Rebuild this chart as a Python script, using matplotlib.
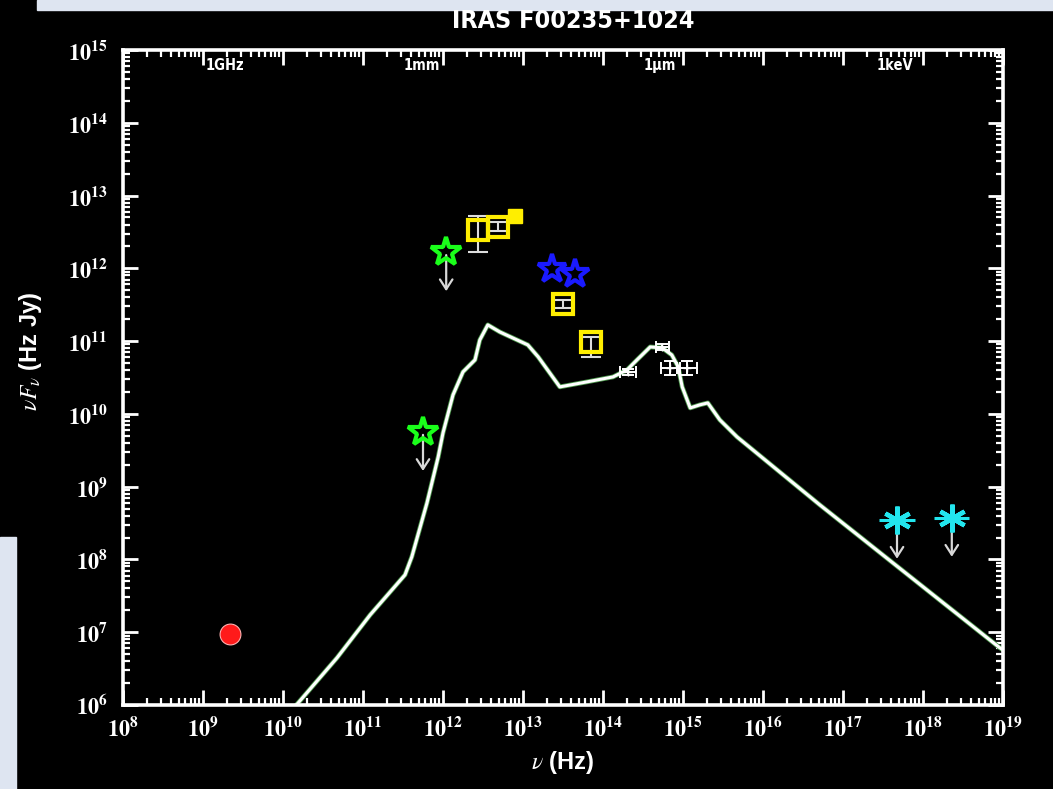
import numpy as np
import matplotlib
matplotlib.use("Agg")
import matplotlib.pyplot as plt
from matplotlib.patches import Rectangle
from matplotlib.ticker import LogLocator, NullFormatter

# model SED curve (log nu [Hz], log nuFnu [Hz Jy])
model_lognu = [10.01, 10.675, 11.09, 11.525, 11.61, 11.80, 11.94, 12.00, 12.125,
               12.25, 12.40, 12.46, 12.56, 12.71, 13.06, 13.19, 13.46, 13.80,
               14.125, 14.30, 14.425, 14.59, 14.74, 14.86, 14.94, 14.99, 15.09,
               15.21, 15.31, 15.46, 15.675, 16.71, 18.96, 19.0]
model_logf = [5.80, 6.648, 7.239, 7.788, 8.036, 8.778, 9.409, 9.739, 10.261,
              10.577, 10.742, 11.016, 11.223, 11.126, 10.948, 10.783, 10.371, 10.440,
              10.508, 10.604, 10.742, 10.920, 10.907, 10.810, 10.646, 10.371, 10.082,
              10.124, 10.151, 9.918, 9.684, 8.750, 6.786, 6.758]

# radio detection
radio_lognu = [9.34]
radio_logf = [6.98]

# green star upper limits
green_lognu = [11.75, 12.04]
green_logf = [9.75, 12.22]

# yellow squares with errors
yel_lognu = [12.44, 12.69, 13.50, 13.85]
yel_logf = [12.53, 12.57, 11.51, 10.99]
yel_err_lo = [0.30, 0.06, 0.06, 0.21]
yel_err_hi = [0.19, 0.06, 0.06, 0.06]
yel_filled_lognu = [12.90]
yel_filled_logf = [12.72]

# blue stars
blue_lognu = [13.36, 13.65]
blue_logf = [11.99, 11.92]

# white photometry points near the model
wht_lognu = [14.31, 14.74, 14.84, 15.05]
wht_logf = [10.58, 10.92, 10.63, 10.63]
wht_xerr = [0.10, 0.08, 0.12, 0.12]
wht_yerr = [0.04, 0.04, 0.10, 0.10]

# cyan X-ray upper limits
cyan_lognu = [17.675, 18.36]
cyan_logf = [8.544, 8.571]
cyan_xerr = [0.22, 0.22]

x_tick_exp = list(range(8, 20))
y_tick_exp = list(range(6, 16))

top_labels = ["1GHz", "1mm", "1\u03bcm", "1keV"]
top_freqs = [1e9, 2.998e11, 2.998e14, 2.418e17]

plt.rcParams["mathtext.fontset"] = "stix"

W, H = 1053, 789
fig = plt.figure(figsize=(W / 100, H / 100), dpi=100, facecolor="black")
ax = fig.add_axes([123 / W, 1 - 705 / H, 880 / W, 655 / H])
ax.set_facecolor("black")

# slide background showing around the plot
bg = "#dee5f1"
fig.patches.append(Rectangle((37 / W, 1 - 10 / H), 1, 10 / H,
                             transform=fig.transFigure, color=bg, zorder=0))
fig.patches.append(Rectangle((0, 0), 16 / W, 1 - 537 / H,
                             transform=fig.transFigure, color=bg, zorder=0))

ax.set_xscale("log")
ax.set_yscale("log")
ax.set_xlim(1e8, 1e19)
ax.set_ylim(1e6, 1e15)

nu = lambda v: 10.0 ** np.asarray(v, dtype=float)

# model curve
ax.plot(nu(model_lognu), nu(model_logf), color="#4f9a4f", lw=3.4, zorder=2)
ax.plot(nu(model_lognu), nu(model_logf), color="white", lw=2.2, zorder=3)

# radio point
ax.plot(nu(radio_lognu), nu(radio_logf), "o", color="#ff1a1a", ms=15,
        mec="#ffb0b0", mew=0.8, zorder=5)


def upper_arrow(x, y):
    ax.annotate("", xy=(x, y), xytext=(0, -30), textcoords="offset points",
                arrowprops=dict(arrowstyle="<-,head_width=0.45,head_length=0.7",
                                color="#d8d8d8", lw=1.6), zorder=4)


for lx, ly in zip(green_lognu, green_logf):
    upper_arrow(10 ** lx, 10 ** ly)
ax.plot(nu(green_lognu), nu(green_logf), "*", ms=22, mfc="none",
        mec="#1aff1a", mew=3.0, zorder=6)

# yellow squares
yl = nu(yel_logf)
yerr = [yl - yl / 10 ** np.array(yel_err_lo), yl * 10 ** np.array(yel_err_hi) - yl]
ax.errorbar(nu(yel_lognu), yl, yerr=yerr, fmt="none", ecolor="#dddddd",
            elinewidth=1.5, capsize=7, capthick=1.5, zorder=4)
ax.plot(nu(yel_lognu), yl, "s", ms=15, mfc="none", mec="#ffee00", mew=3.0, zorder=6)
ax.plot(nu(yel_filled_lognu), nu(yel_filled_logf), "s", ms=10, color="#ffee00", zorder=6)

# blue stars
ax.plot(nu(blue_lognu), nu(blue_logf), "*", ms=21, mfc="none",
        mec="#1a1aff", mew=3.0, zorder=6)

# white points
wx = nu(wht_lognu)
wy = nu(wht_logf)
wxerr = [wx - wx / 10 ** np.array(wht_xerr), wx * 10 ** np.array(wht_xerr) - wx]
wyerr = [wy - wy / 10 ** np.array(wht_yerr), wy * 10 ** np.array(wht_yerr) - wy]
ax.errorbar(wx, wy, xerr=wxerr, yerr=wyerr, fmt="+", color="white", ms=6,
            elinewidth=1.4, capsize=4, capthick=1.4, zorder=5)

# cyan X-ray limits
for lx, ly in zip(cyan_lognu, cyan_logf):
    upper_arrow(10 ** lx, 10 ** ly)
cx = nu(cyan_lognu)
cy = nu(cyan_logf)
cxerr = [cx - cx / 10 ** np.array(cyan_xerr), cx * 10 ** np.array(cyan_xerr) - cx]
ax.errorbar(cx, cy, xerr=cxerr, fmt="none", ecolor="#22e6ee", elinewidth=2.2, zorder=5)
ax.plot(cx, cy, marker=(6, 2, 0), ls="none", ms=20, mec="#22e6ee", mew=3.2, zorder=6)

# axes styling
for sp in ax.spines.values():
    sp.set_color("white")
    sp.set_linewidth(2.6)

ax.set_xticks(10.0 ** np.array(x_tick_exp))
ax.set_xticklabels([r"$\mathbf{10^{%d}}$" % e for e in x_tick_exp])
ax.set_yticks(10.0 ** np.array(y_tick_exp))
ax.set_yticklabels([r"$\mathbf{10^{%d}}$" % e for e in y_tick_exp])
ax.xaxis.set_minor_locator(LogLocator(base=10, subs=np.arange(2, 10), numticks=100))
ax.yaxis.set_minor_locator(LogLocator(base=10, subs=np.arange(2, 10), numticks=100))
ax.xaxis.set_minor_formatter(NullFormatter())
ax.yaxis.set_minor_formatter(NullFormatter())
ax.tick_params(which="both", direction="in", top=True, right=True,
               colors="white", labelsize=16)
ax.tick_params(which="major", length=11, width=2.0)
ax.tick_params(which="minor", length=5, width=1.6)
ax.tick_params(axis="x", pad=8)
ax.tick_params(axis="y", pad=11)

for lab, f in zip(top_labels, top_freqs):
    ax.text(f * 1.08, 0.977, lab, transform=ax.get_xaxis_transform(),
            ha="left", va="center", color="white", fontsize=10.5, fontweight="bold",
            family="DejaVu Sans", fontstretch="condensed")

ax.set_xlabel(r"$\nu$ (Hz)", color="white", fontsize=17, fontweight="bold",
              family=["Liberation Sans", "DejaVu Sans"], labelpad=6)
ax.set_ylabel(r"$\nu F_\nu$ (Hz Jy)", color="white", fontsize=17, fontweight="bold",
              family=["Liberation Sans", "DejaVu Sans"])
ax.yaxis.set_label_coords(-0.09, 0.54)

fig.text(573 / W, 1 - 21 / H, "IRAS F00235+1024", color="white", fontsize=18,
         fontweight="bold", ha="center", va="center", family="DejaVu Sans",
         fontstretch="condensed")

fig.savefig("out.png", dpi=100, facecolor="black")
